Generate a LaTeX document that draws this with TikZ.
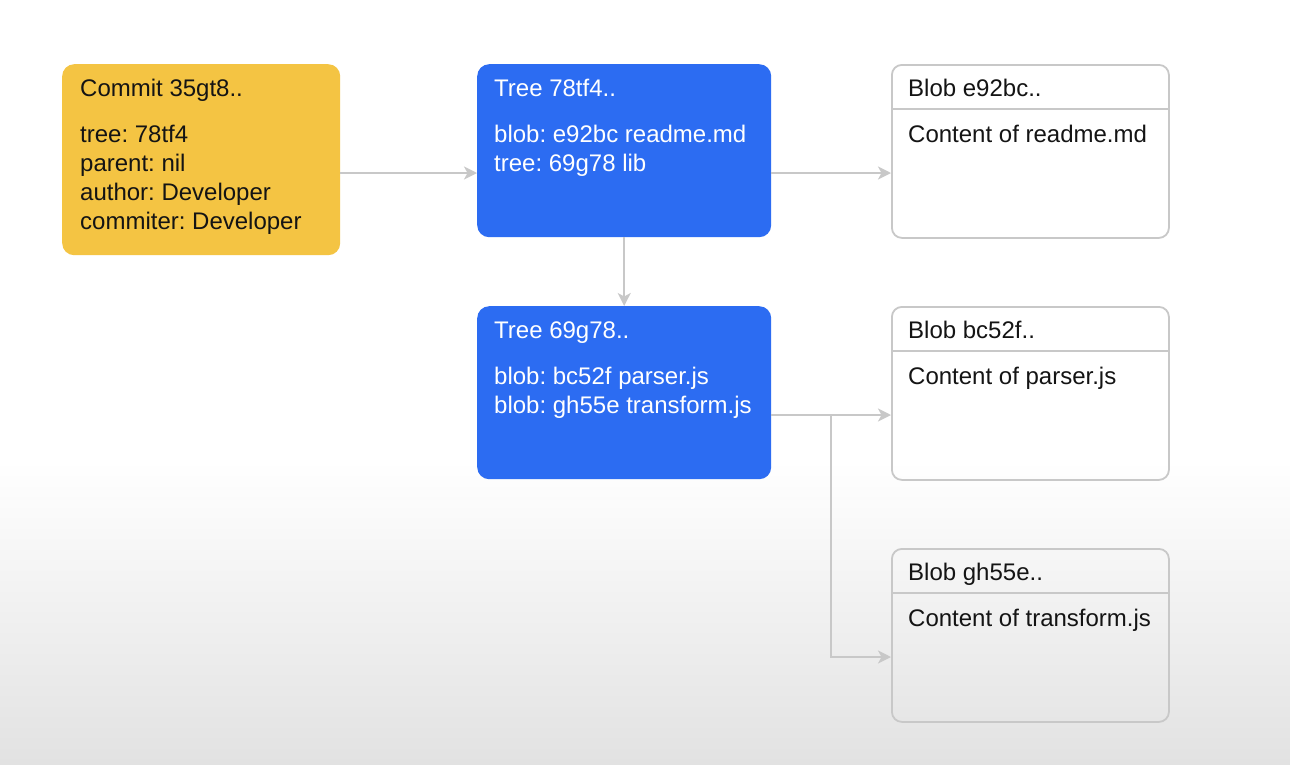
\documentclass[tikz,border=0pt]{standalone}
\usepackage{fontspec}
\setmainfont{Liberation Sans}
\usetikzlibrary{arrows.meta,calc}
\definecolor{cyellow}{HTML}{F4C443}
\definecolor{cblue}{HTML}{2C6CF2}
\definecolor{cline}{HTML}{C8C8C8}
\definecolor{cbot}{HTML}{E2E2E2}
\frenchspacing
\begin{document}
\begin{tikzpicture}[x=1pt,y=-1pt,
  commitbox/.style={fill=cyellow, rounded corners=12pt, anchor=north west, minimum width=278pt, minimum height=191pt, inner sep=0pt},
  treebox/.style={fill=cblue, rounded corners=12pt, anchor=north west, minimum width=294pt, minimum height=173pt, inner sep=0pt},
  blobbox/.style={draw=cline, line width=1.8pt, rounded corners=10pt, anchor=north west, minimum width=277pt, minimum height=173pt, inner sep=0pt},
  lbl/.style={anchor=base west, font=\fontsize{24}{29}\selectfont, inner sep=0pt, text=black!92},
  wlbl/.style={lbl, text=white},
  divider/.style={draw=cline, line width=1.8pt},
  arr/.style={draw=cline, line width=1.8pt, -{Stealth[length=13pt,width=13pt,inset=3.5pt]}}
]
% background
\fill[white] (0,0) rectangle (1290,764);
\shade[top color=white, bottom color=cbot] (0,460) rectangle (1290,764);
\useasboundingbox (0,0) rectangle (1290,764);

% boxes
\node[commitbox] (commit) at (62,64) {};
\node[treebox] (tree1) at (477,64) {};
\node[treebox] (tree2) at (477,306) {};
\node[blobbox] (blob1) at (891,64) {};
\node[blobbox] (blob2) at (891,306) {};
\node[blobbox] (blob3) at (891,548) {};

% commit text
\node[lbl] (c0) at (80,96) {Commit 35gt8..};
\node[lbl] (c1) at (80,142) {tree: 78tf4};
\node[lbl] (c2) at (80,171) {parent: nil};
\node[lbl] (c3) at (80,200) {author: Developer};
\node[lbl] (c4) at (80,229) {commiter: Developer};

% tree 1 text
\node[wlbl] (t10) at (494,96) {Tree 78tf4..};
\node[wlbl] (t11) at (494,142) {blob: e92bc readme.md};
\node[wlbl] (t12) at (494,171) {tree: 69g78 lib};

% tree 2 text
\node[wlbl] (t20) at (494,338) {Tree 69g78..};
\node[wlbl] (t21) at (494,384) {blob: bc52f parser.js};
\node[wlbl] (t22) at (494,413) {blob: gh55e transform.js};

% blob texts
\node[lbl] (b10) at (908,96) {Blob e92bc..};
\node[lbl] (b11) at (908,142) {Content of readme.md};
\node[lbl] (b20) at (908,338) {Blob bc52f..};
\node[lbl] (b21) at (908,384) {Content of parser.js};
\node[lbl] (b30) at (908,580) {Blob gh55e..};
\node[lbl] (b31) at (908,626) {Content of transform.js};

% dividers
\draw[divider] ($(blob1.north west)+(0,45)$) -- ($(blob1.north east)+(0,45)$);
\draw[divider] ($(blob2.north west)+(0,45)$) -- ($(blob2.north east)+(0,45)$);
\draw[divider] ($(blob3.north west)+(0,45)$) -- ($(blob3.north east)+(0,45)$);

% connectors
\coordinate (split) at (831,415);
\draw[arr] (commit.north east |- 0,173) -- (tree1.north west |- 0,173);
\draw[arr] (tree1.north east |- 0,173) -- (blob1.north west |- 0,173);
\draw[arr] (tree1.south) -- (tree2.north);
\draw[arr] (tree2.north east |- split) -- (blob2.north west |- split);
\draw[arr] (split) -- (split |- 0,657) -- (blob3.north west |- 0,657);
\end{tikzpicture}
\end{document}
